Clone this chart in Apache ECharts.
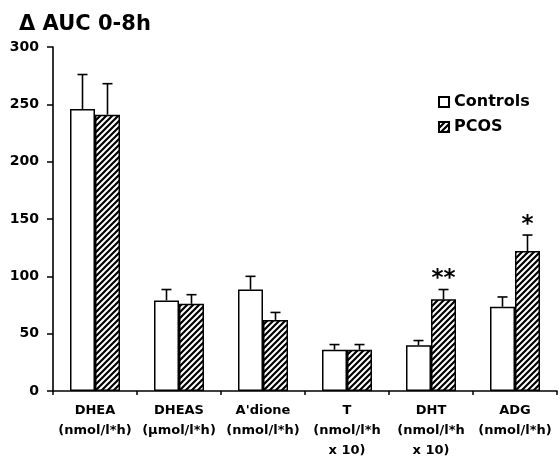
<!DOCTYPE html>
<html>
<head>
<meta charset="utf-8">
<script src="https://cdn.jsdelivr.net/npm/echarts@6/dist/echarts.min.js"></script>
<style>html,body{margin:0;padding:0;background:#fff;}#c{width:560px;height:461px;}</style>
</head>
<body>
<div id="c"></div>
<script>
const categories = ['DHEA\n(nmol/l*h)', 'DHEAS\n(µmol/l*h)', "A'dione\n(nmol/l*h)", 'T\n(nmol/l*h\nx 10)', 'DHT\n(nmol/l*h\nx 10)', 'ADG\n(nmol/l*h)'];
const controls = [246, 79, 88.5, 36, 40, 73.5];
const controlsErr = [30, 9.5, 11.5, 4.5, 4, 8.5];
const pcos = [241, 76, 62, 36, 80, 122];
const pcosErr = [27, 8, 6.5, 4.5, 8.5, 14];
const significance = ['', '', '', '', '**', '*'];
const yTicks = [0, 50, 100, 150, 200, 250, 300];

const FONT = '"DejaVu Sans", sans-serif';
const BAR_W = 25;

function makeHatch() {
  const s = 6;
  const cv = document.createElement('canvas');
  cv.width = s; cv.height = s;
  const ctx = cv.getContext('2d');
  ctx.fillStyle = '#fff';
  ctx.fillRect(0, 0, s, s);
  ctx.strokeStyle = '#000';
  ctx.lineWidth = 2.2;
  ctx.beginPath();
  ctx.moveTo(-1, s + 1); ctx.lineTo(s + 1, -1);
  ctx.moveTo(-1, 1); ctx.lineTo(1, -1);
  ctx.moveTo(s - 1, s + 1); ctx.lineTo(s + 1, s - 1);
  ctx.stroke();
  return cv;
}
const hatch = { image: makeHatch(), repeat: 'repeat' };

function errRender(offset, withSig) {
  return function (params, api) {
    const i = api.value(0), v = api.value(1), e = api.value(2);
    const b = api.coord([i, v]);
    const t = api.coord([i, v + e]);
    const cx = b[0] + offset;
    const style = { stroke: '#000', lineWidth: 1.6 };
    const children = [
      { type: 'line', shape: { x1: cx, y1: b[1], x2: cx, y2: t[1] }, style },
      { type: 'line', shape: { x1: cx - 5, y1: t[1], x2: cx + 5, y2: t[1] }, style }
    ];
    if (withSig && significance[params.dataIndex]) {
      children.push({
        type: 'text',
        style: {
          text: significance[params.dataIndex], x: cx, y: t[1] + 1,
          align: 'center', verticalAlign: 'bottom',
          font: 'bold 23px ' + FONT, fill: '#000'
        }
      });
    }
    return { type: 'group', children };
  };
}

const chart = echarts.init(document.getElementById('c'));
chart.setOption({
  animation: false,
  backgroundColor: '#fff',
  title: {
    text: 'Δ AUC 0-8h', left: 14, top: 9,
    textStyle: { fontFamily: FONT, fontWeight: 'bold', fontSize: 21, color: '#000' }
  },
  legend: {
    data: ['Controls', 'PCOS'], orient: 'vertical', left: 433, top: 89,
    itemWidth: 10, itemHeight: 10, itemGap: 9, icon: 'rect',
    textStyle: { fontFamily: FONT, fontWeight: 'bold', fontSize: 16, color: '#000', padding: [0, 0, 0, 0] }
  },
  grid: { left: 53, right: 3, top: 47, bottom: 68, containLabel: false },
  xAxis: {
    type: 'category', data: categories,
    axisLine: { lineStyle: { color: '#000', width: 1.6 } },
    axisTick: { show: true, length: 4, lineStyle: { color: '#000', width: 1.5 } },
    axisLabel: { interval: 0, margin: 10, lineHeight: 20, fontFamily: FONT, fontWeight: 'bold', fontSize: 13, color: '#000' },
    splitLine: { show: false }
  },
  yAxis: {
    type: 'value', min: yTicks[0], max: yTicks[yTicks.length - 1], interval: 50,
    axisLine: { show: true, lineStyle: { color: '#000', width: 1.6 } },
    axisTick: { show: true, length: 6, lineStyle: { color: '#000', width: 1.5 } },
    axisLabel: { margin: 14, fontFamily: FONT, fontWeight: 'bold', fontSize: 14, color: '#000' },
    splitLine: { show: false }
  },
  series: [
    {
      name: 'Controls', type: 'bar', data: controls, barWidth: BAR_W, barGap: '0%',
      itemStyle: { color: '#fff', borderColor: '#000', borderWidth: 1.5 }
    },
    {
      name: 'PCOS', type: 'bar', data: pcos, barWidth: BAR_W, barGap: '0%',
      itemStyle: { color: hatch, borderColor: '#000', borderWidth: 1.5 }
    },
    {
      type: 'custom', name: 'errC', renderItem: errRender(-BAR_W / 2, false),
      data: controls.map((v, i) => [i, v, controlsErr[i]]), z: 5, silent: true
    },
    {
      type: 'custom', name: 'errP', renderItem: errRender(BAR_W / 2, true),
      data: pcos.map((v, i) => [i, v, pcosErr[i]]), z: 5, silent: true
    }
  ]
});
</script>
</body>
</html>
